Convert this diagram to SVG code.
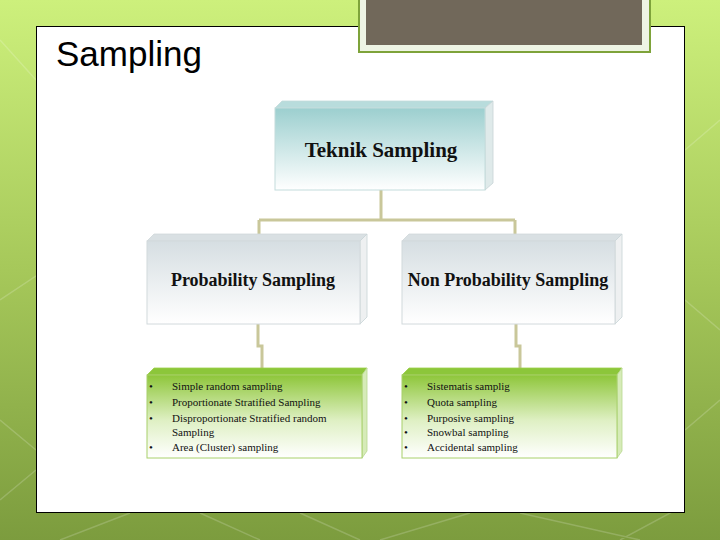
<svg xmlns="http://www.w3.org/2000/svg" width="720" height="540" viewBox="0 0 720 540">
<defs>
<linearGradient id="bg" x1="0" y1="0" x2="0" y2="1">
<stop offset="0" stop-color="#cdf07c"/>
<stop offset="0.5" stop-color="#a6c85a"/>
<stop offset="1" stop-color="#7c9c3e"/>
</linearGradient>
<linearGradient id="teal" x1="0" y1="0" x2="0" y2="1">
<stop offset="0" stop-color="#9ccfcf"/>
<stop offset="1" stop-color="#ffffff"/>
</linearGradient>
<linearGradient id="gray" x1="0" y1="0" x2="0" y2="1">
<stop offset="0" stop-color="#d6dee2"/>
<stop offset="1" stop-color="#ffffff"/>
</linearGradient>
<linearGradient id="green" x1="0" y1="0" x2="0" y2="1">
<stop offset="0" stop-color="#8ec63a"/>
<stop offset="0.55" stop-color="#dff0c4"/>
<stop offset="1" stop-color="#ffffff"/>
</linearGradient>
</defs>
<style>
.lbl{font-family:"Liberation Serif","DejaVu Serif",serif;font-weight:bold;fill:#111;text-anchor:middle}
.item{font-family:"Liberation Serif","DejaVu Serif",serif;font-size:11px;fill:#111}
.conn{fill:none;stroke:#c9c79a;stroke-width:3}
.side{stroke:#c7d3d6;stroke-width:0.8}
.bgline{stroke:#ffffff;stroke-opacity:0.18;stroke-width:1.5;fill:none}
</style>
<rect x="0" y="0" width="720" height="540" fill="url(#bg)"/>
<g class="bgline">
<path d="M0 300 L60 260 M0 420 L36 450 M0 500 L36 470 M60 540 L130 513 M200 513 L260 540 M300 513 L360 540 M380 540 L470 513 M520 513 L640 540 M685 430 L720 400 M685 300 L720 330 M685 150 L720 120 M0 40 L36 80 M620 540 L685 505"/>
</g>
<rect x="36.5" y="26.5" width="648" height="486" fill="#ffffff" stroke="#000" stroke-width="1"/>
<rect x="359" y="-2" width="291" height="54" fill="#eef4e4" stroke="#7ea33a" stroke-width="2"/>
<rect x="366" y="0" width="276" height="45" fill="#71685a"/>
<text x="56" y="66" font-family="Liberation Sans, Arial, sans-serif" font-size="35" fill="#000">Sampling</text>
<g id="connectors">
<path class="conn" d="M381 190 V220 M259 220 H515 M259 220 V235 M515 220 V235"/>
<path class="conn" d="M258 324 V346 H262 V369"/>
<path class="conn" d="M516 324 V346 H520 V369"/>
</g>
<g id="teknik">
<path d="M275 108 L282 101 L493 101 L485 108 Z" fill="#b8dcdc" stroke="#c3dada" stroke-width="0.8"/>
<path d="M485 108 L493 101 L493 183 L485 190 Z" fill="#dfeaea" class="side"/>
<rect x="275" y="108" width="210" height="82" fill="url(#teal)" stroke="#c3dcdc" stroke-width="1"/>
<text class="lbl" x="381" y="157" font-size="21">Teknik Sampling</text>
</g>
<g id="prob">
<path d="M147 241 L154 234 L367 234 L360 241 Z" fill="#d9e0e3" stroke="#d0d8db" stroke-width="0.8"/>
<path d="M360 241 L367 234 L367 317 L360 324 Z" fill="#eef0f1" class="side"/>
<rect x="147" y="241" width="213" height="83" fill="url(#gray)" stroke="#d2d9dc" stroke-width="1"/>
<text class="lbl" x="253" y="286" font-size="18">Probability Sampling</text>
</g>
<g id="nonprob">
<path d="M402 241 L409 234 L622 234 L615 241 Z" fill="#d9e0e3" stroke="#d0d8db" stroke-width="0.8"/>
<path d="M615 241 L622 234 L622 317 L615 324 Z" fill="#eef0f1" class="side"/>
<rect x="402" y="241" width="213" height="83" fill="url(#gray)" stroke="#d2d9dc" stroke-width="1"/>
<text class="lbl" x="508" y="286" font-size="18">Non Probability Sampling</text>
</g>
<g id="problist">
<path d="M147 375 L154 368 L367 368 L362 375 Z" fill="#8cc63a" stroke="#9ccf4a" stroke-width="0.8"/>
<path d="M362 375 L367 368 L367 451 L362 458 Z" fill="#d6ebb8" stroke="#b8d890" stroke-width="0.8"/>
<rect x="147" y="375" width="215" height="83" fill="url(#green)" stroke="#a8d06a" stroke-width="1"/>
<g class="item">
<text x="149" y="390">•</text><text x="172" y="390">Simple random sampling</text>
<text x="149" y="406">•</text><text x="172" y="406">Proportionate Stratified Sampling</text>
<text x="149" y="422">•</text><text x="172" y="422">Disproportionate Stratified random</text>
<text x="172" y="436">Sampling</text>
<text x="149" y="451">•</text><text x="172" y="451">Area (Cluster) sampling</text>
</g>
</g>
<g id="nonproblist">
<path d="M402 375 L409 368 L622 368 L617 375 Z" fill="#8cc63a" stroke="#9ccf4a" stroke-width="0.8"/>
<path d="M617 375 L622 368 L622 451 L617 458 Z" fill="#d6ebb8" stroke="#b8d890" stroke-width="0.8"/>
<rect x="402" y="375" width="215" height="83" fill="url(#green)" stroke="#a8d06a" stroke-width="1"/>
<g class="item">
<text x="404" y="390">•</text><text x="427" y="390">Sistematis samplig</text>
<text x="404" y="406">•</text><text x="427" y="406">Quota sampling</text>
<text x="404" y="422">•</text><text x="427" y="422">Purposive sampling</text>
<text x="404" y="436">•</text><text x="427" y="436">Snowbal sampling</text>
<text x="404" y="451">•</text><text x="427" y="451">Accidental sampling</text>
</g>
</g>
</svg>
